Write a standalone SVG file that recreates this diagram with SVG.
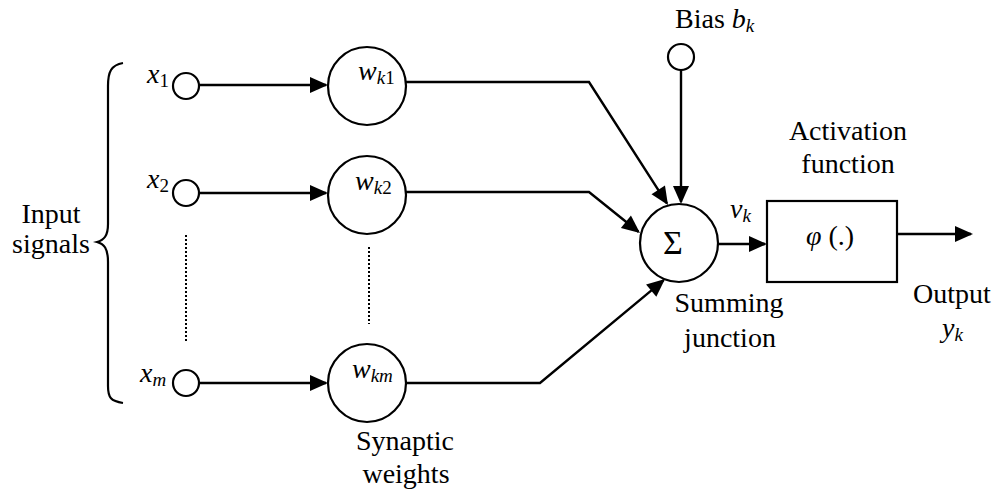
<svg xmlns="http://www.w3.org/2000/svg" width="1000" height="495" viewBox="0 0 1000 495" font-family="'Liberation Serif', 'Times New Roman', Tinos, 'DejaVu Serif', serif">
  <style>
    .node { fill: #fff; stroke: #000; stroke-width: 2.2; }
    .wire { fill: none; stroke: #000; stroke-width: 2.2; }
    .arrow { fill: none; stroke: #000; stroke-width: 2.4; marker-end: url(#head); }
    .dots { fill: none; stroke: #000; stroke-width: 2; stroke-dasharray: 2 2; }
    text { font-family: 'Liberation Serif', 'Times New Roman', Tinos, 'DejaVu Serif', serif; font-size: 28px; fill: #000; }
    .mid { text-anchor: middle; }
    .it { font-style: italic; }
    .sub { font-size: 19px; }
  </style>
  <defs>
    <marker id="head" markerUnits="userSpaceOnUse" markerWidth="18" markerHeight="16" refX="16" refY="8" orient="auto" overflow="visible">
      <path d="M0,0 L18,8 L0,16 Z" fill="#000"/>
    </marker>
  </defs>

  <!-- input brace and caption -->
  <g id="input-brace">
    <path class="wire" d="M123,63 C111,65 108,72 108,86 L108,224 C108,236 104,240 97,242 C104,244 108,248 108,262 L108,386 C108,398 111,401 123,403"/>
    <text class="mid" x="51" y="223">Input</text>
    <text class="mid" x="51" y="253">signals</text>
  </g>

  <!-- input terminals -->
  <g id="x1">
    <circle class="node" cx="186" cy="86" r="13"/>
    <text x="147" y="83"><tspan class="it">x</tspan><tspan class="sub" dy="4">1</tspan></text>
  </g>
  <g id="x2">
    <circle class="node" cx="186" cy="193" r="13"/>
    <text x="147" y="188"><tspan class="it">x</tspan><tspan class="sub" dy="4">2</tspan></text>
  </g>
  <g id="xm">
    <circle class="node" cx="186" cy="383" r="13"/>
    <text x="140" y="382"><tspan class="it">x</tspan><tspan class="sub it" dy="4">m</tspan></text>
  </g>

  <!-- synaptic weights -->
  <g id="wk1">
    <circle class="node" cx="367" cy="86" r="39"/>
    <text x="358" y="80"><tspan class="it">w</tspan><tspan class="sub" dy="4"><tspan class="it">k</tspan>1</tspan></text>
  </g>
  <g id="wk2">
    <circle class="node" cx="367" cy="195" r="39"/>
    <text x="355" y="190"><tspan class="it">w</tspan><tspan class="sub" dy="4"><tspan class="it">k</tspan>2</tspan></text>
  </g>
  <g id="wkm">
    <circle class="node" cx="367" cy="383" r="39"/>
    <text x="352" y="378"><tspan class="it">w</tspan><tspan class="sub it" dy="4">km</tspan></text>
  </g>
  <g id="weights-caption">
    <text class="mid" x="405" y="450">Synaptic</text>
    <text class="mid" x="406" y="483">weights</text>
  </g>

  <!-- bias terminal -->
  <g id="bias">
    <circle class="node" cx="681" cy="57" r="13"/>
    <text x="675" y="28">Bias <tspan class="it">b</tspan><tspan class="sub it" dy="4">k</tspan></text>
  </g>

  <!-- summing junction -->
  <g id="sum">
    <circle class="node" cx="679" cy="243" r="39"/>
    <text class="mid" x="673" y="254" style="font-size:34px">Σ</text>
    <text class="mid" x="729" y="312">Summing</text>
    <text class="mid" x="730" y="347">junction</text>
  </g>

  <!-- activation function -->
  <g id="activation">
    <rect class="node" x="767" y="201" width="130" height="81"/>
    <text class="mid" x="830" y="245"><tspan class="it">φ</tspan> (.)</text>
    <text class="mid" x="848" y="140">Activation</text>
    <text class="mid" x="848" y="173">function</text>
  </g>

  <!-- output label -->
  <g id="output">
    <text class="mid" x="952" y="303">Output</text>
    <text x="942" y="337"><tspan class="it">y</tspan><tspan class="sub it" dy="4">k</tspan></text>
  </g>

  <!-- connectors -->
  <g id="connectors">
    <line class="arrow" x1="199" y1="85" x2="326" y2="85"/>
    <line class="arrow" x1="199" y1="193" x2="326" y2="193"/>
    <line class="arrow" x1="199" y1="383" x2="326" y2="383"/>
    <polyline class="arrow" points="406,82 589,82 666.9,203.3"/>
    <polyline class="arrow" points="406,192 589,192 638.4,231.7"/>
    <polyline class="arrow" points="406,383 540,383 663.5,280.3"/>
    <line class="arrow" x1="681" y1="70" x2="681" y2="202"/>
    <line class="arrow" x1="718" y1="244" x2="765" y2="244"/>
    <line class="arrow" x1="897" y1="234" x2="971" y2="234"/>
    <line class="dots" x1="186" y1="235" x2="186" y2="343"/>
    <line class="dots" x1="369" y1="247" x2="369" y2="324"/>
    <text x="730" y="218"><tspan class="it">v</tspan><tspan class="sub it" dy="4">k</tspan></text>
  </g>
</svg>
